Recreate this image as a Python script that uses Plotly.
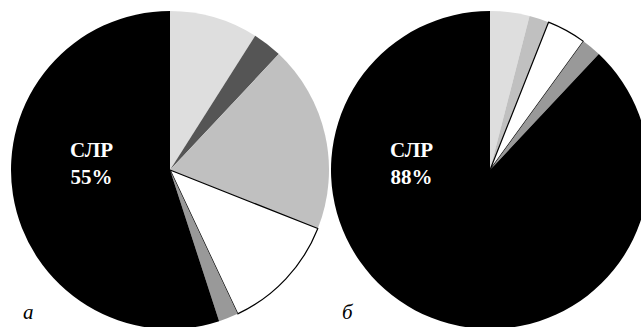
import plotly.graph_objects as go

# Shares of causes, clockwise from 12 o'clock; the last slice is СЛР
labels_a = ["A1", "A2", "A3", "A4", "A5", "СЛР"]
values_a = [9, 3, 19, 12, 2, 55]
colors_a = ["#dedede", "#555555", "#c0c0c0", "#ffffff", "#999999", "#000000"]
edges_a = [0, 0, 0, 1.2, 0, 0]

labels_b = ["B1", "B2", "B3", "B4", "СЛР"]
values_b = [4, 2, 4, 2, 88]
colors_b = ["#dedede", "#c0c0c0", "#ffffff", "#999999", "#000000"]
edges_b = [0, 0, 1.2, 0, 0]

panel_tags = ["а", "б"]

W, H = 650, 329
SERIF = "Liberation Serif, Times New Roman, serif"


def px_x(v):
    return v / W


def px_y(v):
    return 1 - v / H


fig = go.Figure()

for lab, val, col, edg, x0, x1 in [
    (labels_a, values_a, colors_a, edges_a, 11, 329),
    (labels_b, values_b, colors_b, edges_b, 331, 649),
]:
    fig.add_trace(go.Pie(
        labels=lab,
        values=val,
        sort=False,
        direction="clockwise",
        rotation=0,
        textinfo="none",
        hoverinfo="label+percent",
        marker=dict(colors=col, line=dict(color="#000000", width=edg)),
        domain=dict(x=[px_x(x0), px_x(x1)], y=[0, 318 / H]),
        showlegend=False,
    ))

for cx, val in [(91, values_a[-1]), (411, values_b[-1])]:
    fig.add_annotation(
        x=px_x(cx), y=px_y(163), xref="paper", yref="paper",
        xanchor="center", yanchor="middle",
        text=f"<b>СЛР<br>{val}%</b>", showarrow=False,
        font=dict(family=SERIF, size=21, color="#ffffff"), align="center",
    )

for cx, tag in [(28, panel_tags[0]), (348, panel_tags[1])]:
    fig.add_annotation(
        x=px_x(cx), y=px_y(312), xref="paper", yref="paper",
        xanchor="center", yanchor="middle",
        text=f"<i>{tag}</i>", showarrow=False,
        font=dict(family=SERIF, size=21, color="#000000"),
        borderpad=0,
    )

fig.update_layout(
    width=W, height=H,
    margin=dict(l=0, r=0, t=0, b=0),
    paper_bgcolor="#ffffff",
    plot_bgcolor="#ffffff",
)

fig.write_html("out.html")
